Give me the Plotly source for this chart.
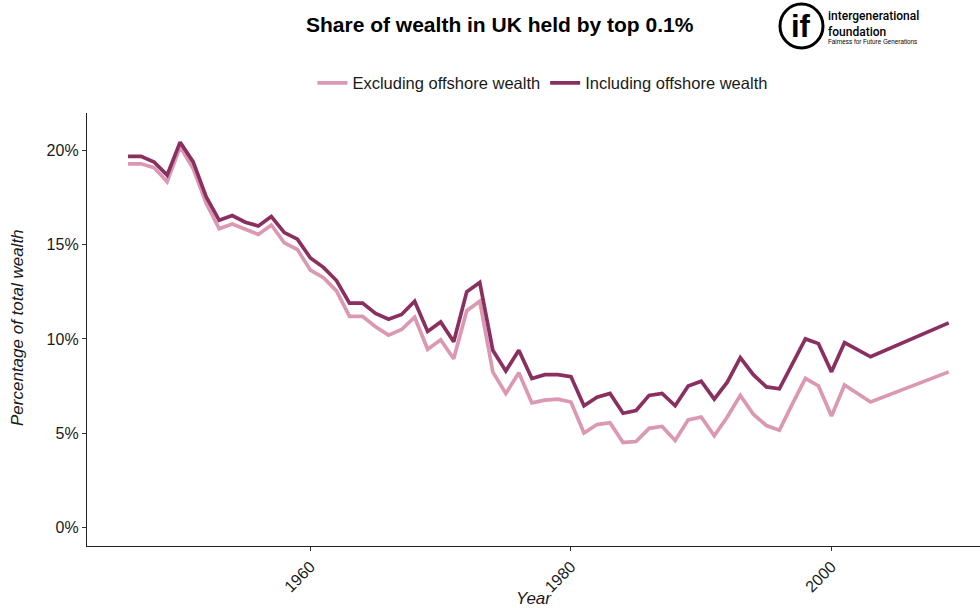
import plotly.graph_objects as go

# Share of UK wealth held by the top 0.1%, percent of total wealth
years = [1946, 1947, 1948, 1949, 1950, 1951, 1952, 1953, 1954, 1955, 1956, 1957,
         1958, 1959, 1960, 1961, 1962, 1963, 1964, 1965, 1966, 1967, 1968, 1969,
         1970, 1971, 1972, 1973, 1974, 1975, 1976, 1977, 1978, 1979, 1980, 1981,
         1982, 1983, 1984, 1985, 1986, 1987, 1988, 1989, 1990, 1991, 1992, 1993,
         1994, 1995, 1996, 1997, 1998, 1999, 2000, 2001, 2003, 2009]

excluding_offshore = [19.3, 19.3, 19.1, 18.35, 20.2, 19.05, 17.2, 15.85, 16.1, 15.8,
                      15.55, 16.05, 15.1, 14.75, 13.65, 13.25, 12.55, 11.2, 11.2, 10.65,
                      10.2, 10.5, 11.15, 9.45, 9.95, 8.95, 11.5, 12.0, 8.25, 7.1,
                      8.2, 6.6, 6.75, 6.8, 6.65, 5.0, 5.45, 5.55, 4.5, 4.55,
                      5.25, 5.35, 4.6, 5.7, 5.85, 4.85, 5.85, 7.0, 6.0, 5.4,
                      5.15, 6.55, 7.9, 7.5, 5.9, 7.55, 6.65, 8.25]

including_offshore = [19.7, 19.7, 19.4, 18.7, 20.45, 19.4, 17.55, 16.3, 16.55, 16.2,
                      16.0, 16.5, 15.65, 15.3, 14.3, 13.8, 13.1, 11.9, 11.9, 11.35,
                      11.05, 11.3, 12.0, 10.4, 10.9, 9.85, 12.5, 13.0, 9.4, 8.3,
                      9.4, 7.9, 8.1, 8.1, 8.0, 6.45, 6.9, 7.1, 6.05, 6.2,
                      7.0, 7.1, 6.45, 7.5, 7.75, 6.8, 7.7, 9.0, 8.1, 7.45,
                      7.35, 8.7, 10.0, 9.75, 8.25, 9.8, 9.05, 10.85]

series_names = ["Excluding offshore wealth", "Including offshore wealth"]
series_colors = ["#DB98B2", "#8A3060"]

y_tick_values = [0, 5, 10, 15, 20]
y_tick_labels = ["0%", "5%", "10%", "15%", "20%"]
x_tick_values = [1960, 1980, 2000]
x_tick_labels = ["1960", "1980", "2000"]

FONT = "Liberation Sans, Arial, sans-serif"
INK = "#1a1a1a"

fig = go.Figure()
for name, values, color in zip(series_names,
                               [excluding_offshore, including_offshore],
                               series_colors):
    fig.add_trace(go.Scatter(
        x=years, y=values, name=name, mode="lines",
        line=dict(color=color, width=3.7),
    ))

fig.update_layout(
    width=980, height=608,
    margin=dict(l=87, r=0, t=113, b=62),
    paper_bgcolor="white", plot_bgcolor="white",
    font=dict(family=FONT, color=INK, size=16),
    showlegend=True,
    legend=dict(
        orientation="h", x=0.51, xanchor="center", y=1.069, yanchor="middle",
        font=dict(size=16.5, color=INK), itemwidth=30, tracegroupgap=0,
        bgcolor="rgba(0,0,0,0)",
    ),
    xaxis=dict(
        range=[1942.85, 2011.4], showgrid=False, zeroline=False,
        showline=True, linecolor="#222", linewidth=1.3,
        ticks="outside", ticklen=4, tickcolor="#333", tickwidth=1,
        tickvals=x_tick_values, ticktext=x_tick_labels, tickangle=-45,
        tickfont=dict(size=16, color=INK),
    ),
    yaxis=dict(
        range=[-1.0, 22.0], showgrid=False, zeroline=False,
        showline=True, linecolor="#222", linewidth=1.3,
        ticks="outside", ticklen=4, tickcolor="#333", tickwidth=1,
        tickvals=y_tick_values, ticktext=y_tick_labels,
        tickfont=dict(size=16, color=INK),
    ),
)

# Title and axis titles
fig.add_annotation(
    text="<b>Share of wealth in UK held by top 0.1%</b>",
    xref="paper", yref="paper", x=(500 - 87) / 893, y=(546 - 25) / 433,
    xanchor="center", yanchor="middle", showarrow=False,
    font=dict(size=21, color="black", family=FONT),
)
fig.add_annotation(
    text="<i>Year</i>", xref="paper", yref="paper",
    x=(534 - 87) / 893, y=(546 - 598) / 433, xanchor="center", yanchor="middle",
    showarrow=False, font=dict(size=17, color=INK, family=FONT),
)
fig.add_annotation(
    text="<i>Percentage of total wealth</i>", xref="paper", yref="paper",
    x=(17 - 87) / 893, y=(546 - 328) / 433, xanchor="center", yanchor="middle",
    textangle=-90, showarrow=False, font=dict(size=17, color=INK, family=FONT),
)

# Intergenerational Foundation logo
fig.add_shape(
    type="circle", xref="paper", yref="paper",
    x0=(780 - 87) / 893, x1=(823 - 87) / 893,
    y0=(546 - 48) / 433, y1=(546 - 4) / 433,
    line=dict(color="black", width=3), fillcolor="white",
)
fig.add_annotation(
    text="<b>if</b>", xref="paper", yref="paper",
    x=(801 - 87) / 893, y=(546 - 27) / 433, xanchor="center", yanchor="middle",
    showarrow=False, font=dict(size=31, color="black", family=FONT),
)
fig.add_annotation(
    text="intergenerational<br>foundation", xref="paper", yref="paper",
    x=(826 - 87) / 893, y=(546 - 24) / 433, xanchor="left", yanchor="middle",
    align="left", showarrow=False,
    font=dict(size=12, color="black", family="Roboto", weight=500),
)
fig.add_annotation(
    text="Fairness for Future Generations", xref="paper", yref="paper",
    x=(826 - 87) / 893, y=(546 - 42) / 433, xanchor="left", yanchor="middle",
    showarrow=False, font=dict(size=6.3, color="black", family=FONT),
)

fig.write_html("out.html")
